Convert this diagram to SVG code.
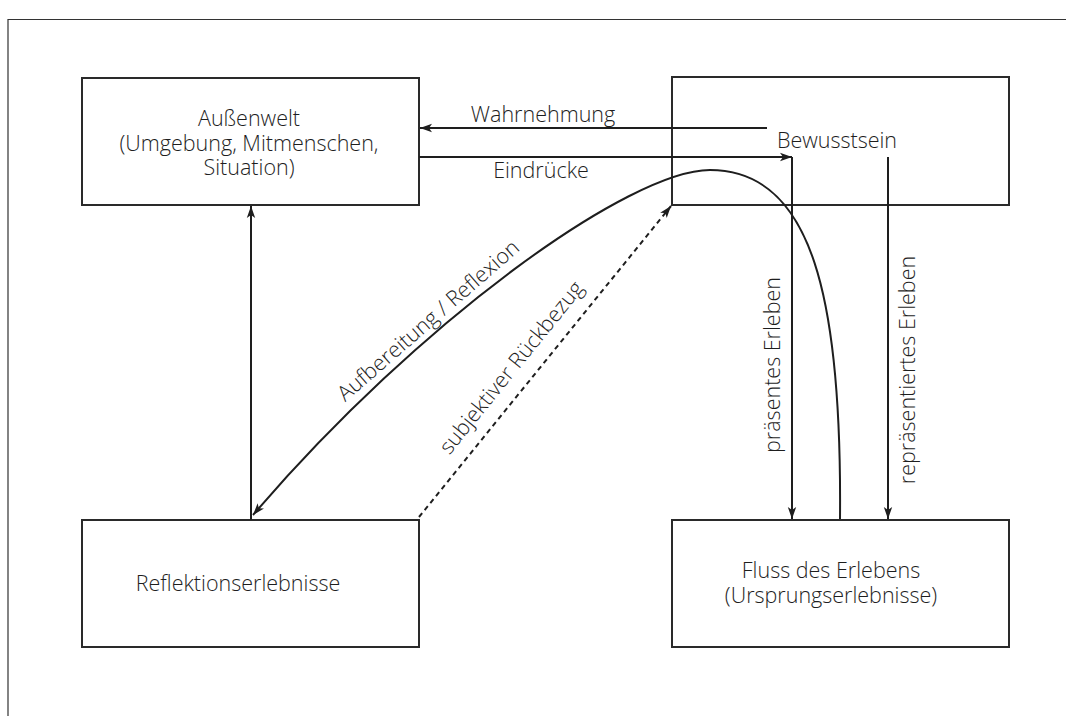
<svg xmlns="http://www.w3.org/2000/svg" width="1066" height="716" viewBox="0 0 1066 716">
<style>
.box{fill:#fff;stroke:#2a2a2a;stroke-width:2}
.t{font-family:"Open Sans","Liberation Sans",sans-serif;font-size:21.5px;font-weight:350;fill:#1e1e1e;text-anchor:middle}
.ln{fill:none;stroke:#1e1e1e;stroke-width:2}
.dash{stroke-dasharray:5 4}
.frame{fill:none;stroke:#333;stroke-width:1.2}
</style>
<defs>
<marker id="ah" viewBox="0 0 12 10" refX="12" refY="5" markerWidth="12" markerHeight="10" markerUnits="userSpaceOnUse" orient="auto">
<path d="M0,0.8 L12,5 L0,9.2 L3,5 Z" fill="#1e1e1e"/>
</marker>
</defs>
<rect width="1066" height="716" fill="#fff"/>
<path class="frame" d="M8,716 V19.5 H1066"/>

<g id="aussenwelt">
<rect class="box" x="82" y="78" width="337" height="127"/>
<text class="t" x="249" y="126">Außenwelt</text>
<text class="t" x="249" y="150.5">(Umgebung, Mitmenschen,</text>
<text class="t" x="249" y="175">Situation)</text>
</g>
<g id="bewusstsein">
<rect class="box" x="672" y="77" width="337" height="128"/>
<text class="t" x="837" y="148">Bewusstsein</text>
</g>
<g id="reflektion">
<rect class="box" x="82" y="520" width="337" height="127"/>
<text class="t" x="238" y="591">Reflektionserlebnisse</text>
</g>
<g id="fluss">
<rect class="box" x="672" y="520" width="337" height="127"/>
<text class="t" x="831" y="578">Fluss des Erlebens</text>
<text class="t" x="831" y="602.5">(Ursprungserlebnisse)</text>
</g>

<g id="connectors">
<path class="ln" d="M767,128 H420" marker-end="url(#ah)"/>
<path class="ln" d="M419,157 H792" marker-end="url(#ah)"/>
<path class="ln" d="M792,157 V519" marker-end="url(#ah)"/>
<path class="ln" d="M888,157 V519" marker-end="url(#ah)"/>
<path class="ln" d="M251,520 V206" marker-end="url(#ah)"/>
<path class="ln" d="M840,519 C842,300 813,170 710,170 C630,170 420,320 253,515" marker-end="url(#ah)"/>
<path class="ln dash" d="M419,517 L671,206" marker-end="url(#ah)"/>
<text class="t" x="543" y="122">Wahrnehmung</text>
<text class="t" x="541" y="178">Eindrücke</text>
<text class="t" transform="translate(780,365) rotate(-90)">präsentes Erleben</text>
<text class="t" transform="translate(915,370) rotate(-90)">repräsentiertes Erleben</text>
<text class="t" transform="translate(433,326) rotate(-41)">Aufbereitung / Reflexion</text>
<text class="t" transform="translate(517,372) rotate(-51)">subjektiver Rückbezug</text>
</g>
</svg>
